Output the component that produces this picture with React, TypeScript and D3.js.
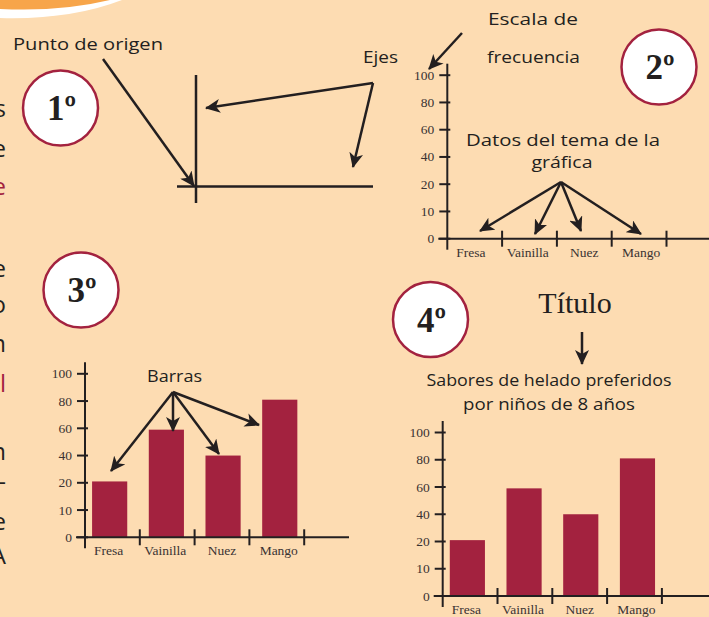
import React from "react";
import * as d3 from "d3";

// data
const categories = ["Fresa", "Vainilla", "Nuez", "Mango"];
const values = [21, 59, 40, 81];
const yTicks = [0, 10, 20, 40, 60, 80, 100];
const chartTitle = ["Sabores de helado preferidos", "por niños de 8 años"];

const BG = "#FDDCB2";
const RED = "#A3223F";
const INK = "#231F20";
const hand = "'Open Sans', 'Noto Sans', sans-serif";
const serif = "'Liberation Serif', 'DejaVu Serif', serif";

const Y_STEP = 27.25;
const SEP_STEP = 54.8;
const BAR_STEP = 56.7;

const Chart = ({ ox, oy, right, showBars }) => {
  const y = d3
    .scaleLinear()
    .domain(yTicks)
    .range(yTicks.map((_, i) => oy - i * Y_STEP));
  const sep = d3
    .scaleBand()
    .domain(categories)
    .range([ox, ox + categories.length * SEP_STEP]);
  const bx = d3
    .scaleBand()
    .domain(categories)
    .range([ox, ox + BAR_STEP * (categories.length - 0.38 + 0.25)])
    .paddingInner(0.38)
    .paddingOuter(0.125);

  return (
    <g>
      {showBars &&
        categories.map((c, i) => (
          <rect
            key={c}
            x={bx(c)}
            width={bx.bandwidth()}
            y={y(values[i])}
            height={oy - y(values[i])}
            fill={RED}
          />
        ))}
      <line x1={ox} x2={ox} y1={oy - 175} y2={oy + 11} stroke={INK} strokeWidth={2} />
      <line x1={ox - 9} x2={right} y1={oy} y2={oy} stroke={INK} strokeWidth={2} />
      {yTicks.map((t) => (
        <g key={t}>
          <line x1={ox - 8} x2={ox + 3} y1={y(t)} y2={y(t)} stroke={INK} strokeWidth={2} />
          <text
            x={ox - 13}
            y={y(t) + 4.5}
            textAnchor="end"
            fontFamily={serif}
            fontSize={13.5}
            fill="#3a3333"
          >
            {t}
          </text>
        </g>
      ))}
      {categories.map((c) => (
        <g key={c}>
          <line
            x1={sep(c) + sep.bandwidth()}
            x2={sep(c) + sep.bandwidth()}
            y1={oy - 8}
            y2={oy + 8}
            stroke={INK}
            strokeWidth={2}
          />
          <text
            x={bx(c) + bx.bandwidth() / 2 - 1}
            y={oy + 18}
            textAnchor="middle"
            fontFamily={serif}
            fontSize={13.5}
            fill="#3a3333"
          >
            {c}
          </text>
        </g>
      ))}
    </g>
  );
};

const Badge = ({ cx, cy, label }) => (
  <g>
    <circle cx={cx} cy={cy} r={37.5} fill="#fff" stroke={RED} strokeWidth={2.5} />
    <text
      x={cx + 1}
      y={cy + 12}
      textAnchor="middle"
      fontFamily={serif}
      fontWeight="bold"
      fontSize={35}
      fill={INK}
    >
      {label}
    </text>
  </g>
);

const Arrow = ({ x1, y1, x2, y2 }) => (
  <line
    x1={x1}
    y1={y1}
    x2={x2}
    y2={y2}
    stroke={INK}
    strokeWidth={2.5}
    markerEnd="url(#head)"
  />
);

const HandText = ({ x, y, w, children, anchor = "start", size = 17 }) => (
  <text
    x={x}
    y={y}
    textAnchor={anchor}
    fontFamily={hand}
    fontWeight={500}
    fontSize={size}
    fill={INK}
    textLength={w}
    lengthAdjust="spacingAndGlyphs"
  >
    {children}
  </text>
);

// cut-off letters on the left edge
const edgeLetters = [
  { ch: "s", y: 117, red: false },
  { ch: "e", y: 157, red: false },
  { ch: "e", y: 195, red: true },
  { ch: "e", y: 277, red: false },
  { ch: "o", y: 313, red: false },
  { ch: "n", y: 352, red: false },
  { ch: "l", y: 392, red: true },
  { ch: "n", y: 460, red: false },
  { ch: "-", y: 490, red: false },
  { ch: "e", y: 530, red: false },
  { ch: "A", y: 564, red: false },
];

export default function App() {
  return (
    <svg
      width={709}
      height={617}
      style={{ position: "absolute", left: 0, top: 0, background: BG }}
    >
      <defs>
        <marker
          id="head"
          markerUnits="userSpaceOnUse"
          markerWidth={16}
          markerHeight={14}
          refX={14}
          refY={7}
          orient="auto"
        >
          <path d="M0,0 L15,7 L0,14 L4,7 Z" fill={INK} />
        </marker>
      </defs>
      <rect width={709} height={617} fill={BG} />
      <path d="M0,0 L122,0 Q70,20 0,18 Z" fill="#fff" />
      <path d="M0,0 L110,0 Q60,12 0,9 Z" fill="#F7A54A" />

      {edgeLetters.map((l, i) => (
        <text
          key={i}
          x={6}
          y={l.y}
          textAnchor="end"
          fontFamily={hand}
          fontWeight={500}
          fontSize={24}
          fill={l.red ? RED : INK}
        >
          {l.ch}
        </text>
      ))}

      {/* 1º */}
      <HandText x={13} y={50} w={150}>
        Punto de origen
      </HandText>
      <Badge cx={60.5} cy={108} label="1º" />
      <line x1={196} x2={196} y1={75} y2={203} stroke={INK} strokeWidth={2.5} />
      <line x1={177} x2={373} y1={186.5} y2={186.5} stroke={INK} strokeWidth={2.5} />
      <Arrow x1={103} y1={59} x2={194} y2={186} />
      <HandText x={363} y={63} w={35}>
        Ejes
      </HandText>
      <Arrow x1={373} y1={83} x2={206} y2={108} />
      <Arrow x1={373} y1={83} x2={353} y2={167} />

      {/* 2º */}
      <HandText x={488} y={25} w={90}>
        Escala de
      </HandText>
      <HandText x={487} y={63} w={93}>
        frecuencia
      </HandText>
      <Arrow x1={462} y1={33} x2={429} y2={69} />
      <Badge cx={659} cy={67} label="2º" />
      <Chart ox={447.3} oy={238.7} right={712} showBars={false} />
      <HandText x={466} y={145.5} w={194} size={16}>
        Datos del tema de la
      </HandText>
      <HandText x={562} y={168} w={61} size={16} anchor="middle">
        gráfica
      </HandText>
      <Arrow x1={561} y1={182} x2={480} y2={231} />
      <Arrow x1={561} y1={182} x2={535} y2={234} />
      <Arrow x1={561} y1={182} x2={581} y2={231} />
      <Arrow x1={561} y1={182} x2={641} y2={234} />

      {/* 3º */}
      <Badge cx={81} cy={290} label="3º" />
      <Chart ox={85} oy={537.3} right={349} showBars={true} />
      <HandText x={147} y={381.5} w={55}>
        Barras
      </HandText>
      <Arrow x1={173} y1={392} x2={111} y2={471} />
      <Arrow x1={173} y1={392} x2={173} y2={431} />
      <Arrow x1={173} y1={392} x2={219} y2={454} />
      <Arrow x1={173} y1={392} x2={259} y2={425} />

      {/* 4º */}
      <Badge cx={430.5} cy={319.5} label="4º" />
      <text x={575} y={313} textAnchor="middle" fontFamily={serif} fontSize={30} fill={INK}>
        Título
      </text>
      <Arrow x1={582} y1={332} x2={582} y2={364} />
      <HandText x={549} y={386} w={245} anchor="middle">
        {chartTitle[0]}
      </HandText>
      <HandText x={549} y={410} w={172} anchor="middle">
        {chartTitle[1]}
      </HandText>
      <Chart ox={442.7} oy={596} right={712} showBars={true} />
    </svg>
  );
}
